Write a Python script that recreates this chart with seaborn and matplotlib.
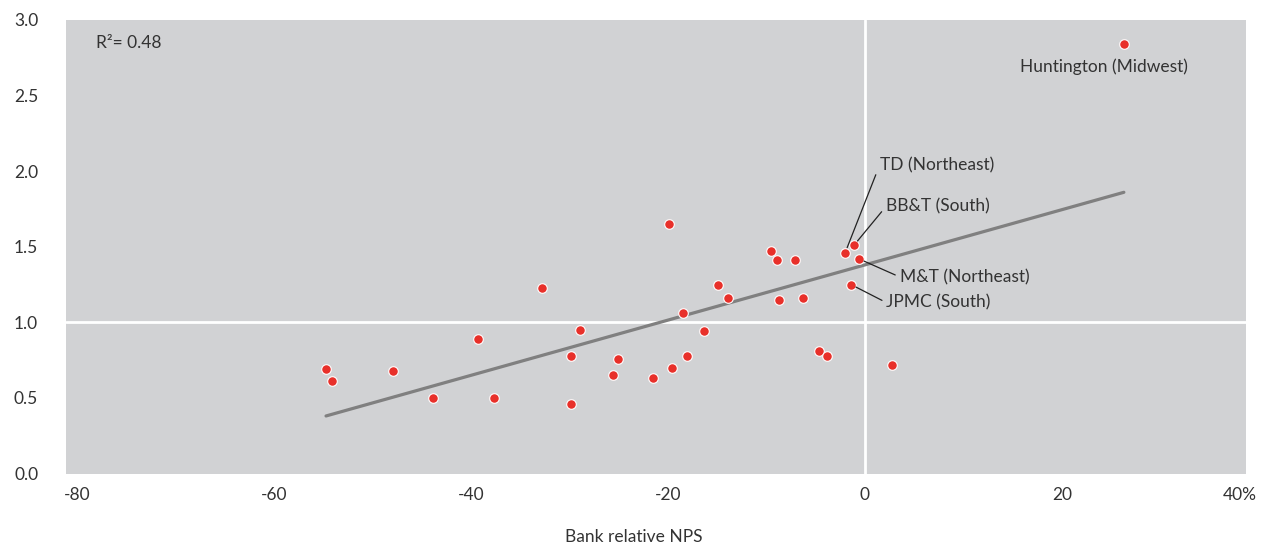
import matplotlib
matplotlib.use("Agg")
import matplotlib.pyplot as plt
import seaborn as sns
import pandas as pd

# ---- data ----
nps = [-54.7, -54.1, -47.9, -43.8, -39.3, -37.6, -32.8, -29.8, -29.8, -28.9,
       -25.6, -25.1, -21.5, -19.9, -19.6, -18.5, -18.1, -16.3, -14.9, -13.9,
       -9.5, -8.9, -7.1, -8.7, -6.3, -4.7, -3.8, 2.8, -2.0, -1.1, -0.6, -1.4, 26.3]
growth = [0.69, 0.61, 0.68, 0.50, 0.89, 0.50, 1.23, 0.78, 0.46, 0.95,
          0.65, 0.76, 0.63, 1.65, 0.70, 1.06, 0.78, 0.94, 1.25, 1.16,
          1.47, 1.41, 1.41, 1.15, 1.16, 0.81, 0.78, 0.72, 1.46, 1.51, 1.42, 1.25, 2.84]

labels = ["TD (Northeast)", "BB&T (South)", "M&T (Northeast)", "JPMC (South)", "Huntington (Midwest)"]
label_pts = [(-2.0, 1.46), (-1.1, 1.51), (-0.6, 1.42), (-1.4, 1.25), (26.3, 2.84)]
label_txt = [(1.5, 2.04), (2.13, 1.765), (3.55, 1.30), (2.2, 1.13), (24.26, 2.69)]

x_ticks = [-80, -60, -40, -20, 0, 20]
x_ticklabels = ["-80", "-60", "-40", "-20", "0", "20"]
last_xlabel = "40%"
y_ticks = [0.0, 0.5, 1.0, 1.5, 2.0, 2.5, 3.0]
r2_text = "R²= 0.48"

df = pd.DataFrame({"nps": nps, "growth": growth})

sns.set_theme(style="white")
plt.rcParams["font.family"] = ["Lato", "DejaVu Sans"]
TXT = "#333333"
BG = "#D1D2D4"

fig = plt.figure(figsize=(12.7, 5.48), dpi=100)
ax = fig.add_axes([66 / 1270, 1 - 473.5 / 548, 1180 / 1270, 453.5 / 548])
ax.set_facecolor(BG)

ax.axvline(0, color="white", lw=2, zorder=1)
ax.axhline(1.0, color="white", lw=2, zorder=1)

sns.regplot(data=df, x="nps", y="growth", ax=ax, ci=None, truncate=True,
            scatter=False, line_kws=dict(color="#808080", lw=2.3, zorder=2))
sns.scatterplot(data=df, x="nps", y="growth", ax=ax, color="#E8302A",
                edgecolor="white", linewidth=0.8, s=48, zorder=3)

for lab, (px, py), (tx, ty) in zip(labels, label_pts, label_txt):
    if lab.startswith("Huntington"):
        ax.text(tx, ty, lab, ha="center", va="center", fontsize=12.5, color=TXT)
    else:
        ax.annotate(lab, xy=(px, py), xytext=(tx, ty), ha="left", va="center",
                    fontsize=12.5, color=TXT,
                    arrowprops=dict(arrowstyle="-", color="#222222", lw=0.9,
                                    relpos=(0, 0.5), shrinkA=1, shrinkB=4))

ax.text(0.025, 0.95, r2_text, transform=ax.transAxes, ha="left", va="center",
        fontsize=12.5, color=TXT)

ax.set_xlim(-81.1, 38.7)
ax.set_ylim(0, 3.0)
ax.set_xticks(x_ticks)
ax.set_xticklabels(x_ticklabels)
ax.set_yticks(y_ticks)
ax.set_yticklabels([f"{v:.1f}" for v in y_ticks])
ax.tick_params(axis="both", length=0, labelsize=12.5, labelcolor=TXT)
ax.tick_params(axis="x", pad=10)
ax.tick_params(axis="y", pad=20)
ax.text(38.07, -0.145, last_xlabel, transform=ax.transData, ha="center", va="center",
        fontsize=12.5, color=TXT, clip_on=False)

ax.set_xlabel("Bank relative NPS", fontsize=12.5, color=TXT)
ax.xaxis.label.set_va("center")
ax.xaxis.set_label_coords(0.481, (473.5 - 537) / 453.5)
ax.set_ylabel("")
for s in ax.spines.values():
    s.set_visible(False)

fig.savefig("out.png", dpi=100, facecolor="white")
